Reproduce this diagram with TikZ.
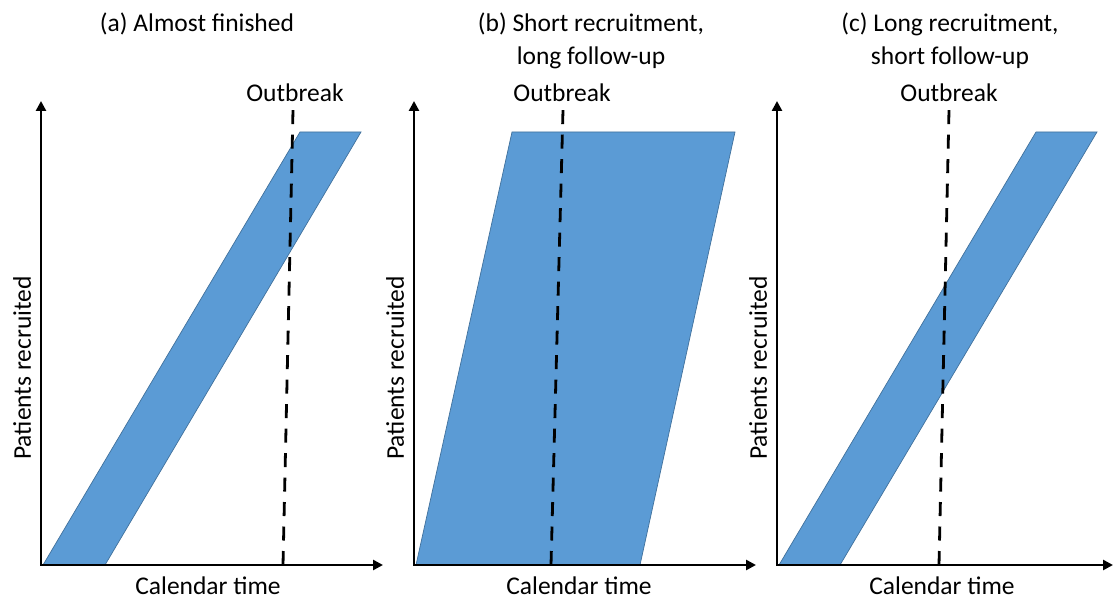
\documentclass[tikz,border=0pt]{standalone}
\usepackage{fontspec}
\setmainfont{Carlito}
\usetikzlibrary{arrows.meta}
\definecolor{trialblue}{HTML}{5B9BD5}
\definecolor{trialedge}{HTML}{41719C}
\tikzset{
  axis/.style={line width=2.6pt, {Triangle[length=10pt,width=10pt]}-{Triangle[length=10pt,width=10pt]}},
  band/.style={fill=trialblue, draw=trialedge, line width=0.7pt},
  outbreak/.style={line width=2.8pt, dash pattern=on 14pt off 10.5pt},
  lbl/.style={font=\fontsize{25.5}{33}\selectfont, inner sep=0pt},
  ylbl/.style={lbl, rotate=90},
  title/.style={lbl, align=center, anchor=north}
}
\begin{document}
\begin{tikzpicture}[x=1pt,y=-1pt]
\useasboundingbox (0,0) rectangle (1114,599);

% (a) almost finished
\draw[band] (43,565) -- (105,565) -- (361,132) -- (300,132) -- cycle;
\draw[outbreak] (283,565) -- (293,110);
\draw[axis] (41,101) -- (41,565) -- (383,565);
\node[title] (titleA) at (197,13) {(a) Almost finished};
\node[lbl] (outA) at (295,93) {Outbreak};
\node[lbl] (timeA) at (208,586) {Calendar time};
\node[ylbl] (patA) at (22,368) {Patients recruited};

% (b) short recruitment, long follow-up
\draw[band] (416,565) -- (640,565) -- (735,132) -- (512,132) -- cycle;
\draw[outbreak] (551,565) -- (563,110);
\draw[axis] (414,101) -- (414,565) -- (756,565);
\node[title] (titleB) at (591,13) {(b) Short recruitment,\\long follow-up};
\node[lbl] (outB) at (562,93) {Outbreak};
\node[lbl] (timeB) at (579,586) {Calendar time};
\node[ylbl] (patB) at (395,368) {Patients recruited};

% (c) long recruitment, short follow-up
\draw[band] (779,565) -- (840,565) -- (1097,132) -- (1036,132) -- cycle;
\draw[outbreak] (939,565) -- (949,110);
\draw[axis] (777,101) -- (777,565) -- (1113,565);
\node[title] (titleC) at (950,13) {(c) Long recruitment,\\short follow-up};
\node[lbl] (outC) at (949,93) {Outbreak};
\node[lbl] (timeC) at (942,586) {Calendar time};
\node[ylbl] (patC) at (758,368) {Patients recruited};
\end{tikzpicture}
\end{document}
